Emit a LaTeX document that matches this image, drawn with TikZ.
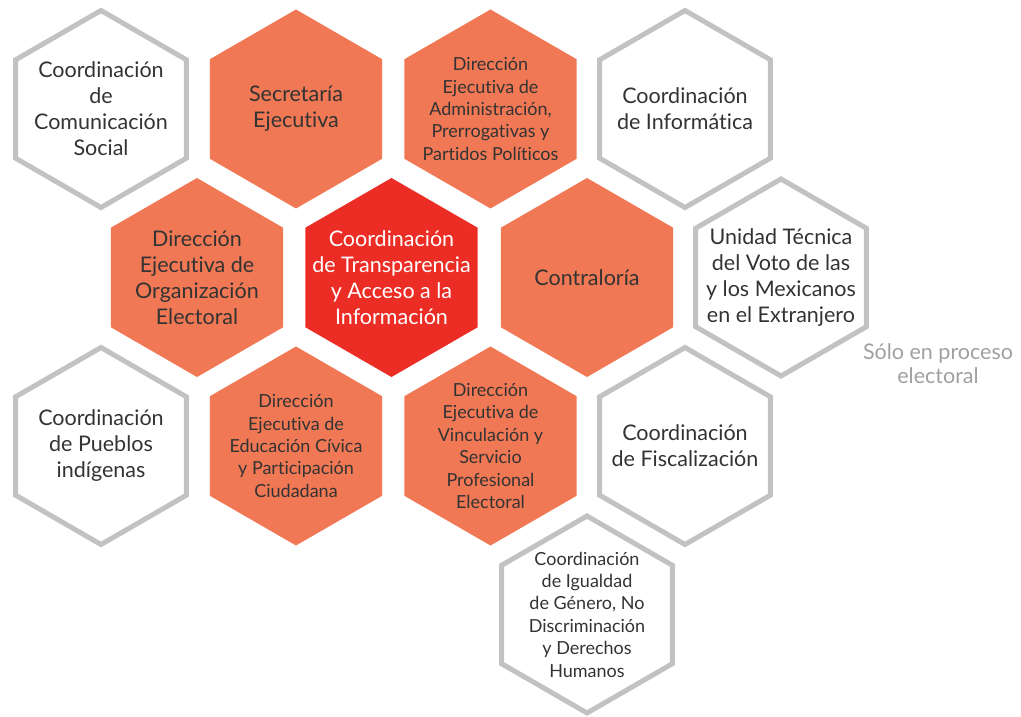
\documentclass[tikz,border=0pt]{standalone}
\usepackage{fontspec}
\setmainfont{Lato}[Ligatures=NoCommon]
\usetikzlibrary{shapes.geometric}
\definecolor{hexorange}{HTML}{F07854}
\definecolor{hexred}{HTML}{EC2D25}
\definecolor{hexgray}{HTML}{C2C2C2}
\definecolor{txtgray}{HTML}{333333}
\definecolor{notegray}{HTML}{A0A0A0}

\begin{document}
\begin{tikzpicture}[
          x=1pt, y=1pt,
          hex/.style={regular polygon, regular polygon sides=6, shape border rotate=30, minimum size=199pt, inner sep=-40pt, align=center, text=txtgray, font=\fontsize{21.5}{26}\selectfont},
          hexo/.style={hex, fill=hexorange},
          hexr/.style={hex, fill=hexred, text=white},
          hexw/.style={hex, draw=hexgray, line width=5pt, minimum size=197pt},
          smalltxt/.style={font=\fontsize{18}{22.4}\selectfont},
          note/.style={align=center, text=notegray, font=\fontsize{21.5}{24}\selectfont}
        ]
          \useasboundingbox (0,0) rectangle (1021,716);
          \node[hexw] (comsoc) at (101,607) {Coordinación\\de\\Comunicación\\Social};
          \node[hexo] (secej) at (296,607) {Secretaría\\Ejecutiva};
          \node[hexo, smalltxt] (deappp) at (490.5,607) {Dirección\\Ejecutiva de\\Administración,\\Prerrogativas y\\Partidos Políticos};
          \node[hexw] (inform) at (685,607) {Coordinación\\de Informática};

          \node[hexo] (deoe) at (197,438.5) {Dirección\\Ejecutiva de\\Organización\\Electoral};
          \node[hexr] (transp) at (391.5,438.5) {Coordinación\\de Transparencia\\y Acceso a la\\Información};
          \node[hexo] (contra) at (587,438.5) {Contraloría};
          \node[hexw] (votoext) at (781,438.5) {Unidad Técnica\\del Voto de las\\y los Mexicanos\\en el Extranjero};
          \node[note] (proceso) at (938,352) {Sólo en proceso\\electoral};

          \node[hexw] (pueblos) at (101,270) {Coordinación\\de Pueblos\\indígenas};
          \node[hexo, smalltxt] (deecpc) at (296,270) {Dirección\\Ejecutiva de\\Educación Cívica\\y Participación\\Ciudadana};
          \node[hexo, smalltxt] (devspe) at (490.5,270) {Dirección\\Ejecutiva de\\Vinculación y\\Servicio\\Profesional\\Electoral};
          \node[hexw] (fisc) at (685,270) {Coordinación\\de Fiscalización};

          \node[hexw, smalltxt] (igualdad) at (587,101.5) {Coordinación\\de Igualdad\\de Género, No\\Discriminación\\y Derechos\\Humanos};
        \end{tikzpicture}
\end{document}
